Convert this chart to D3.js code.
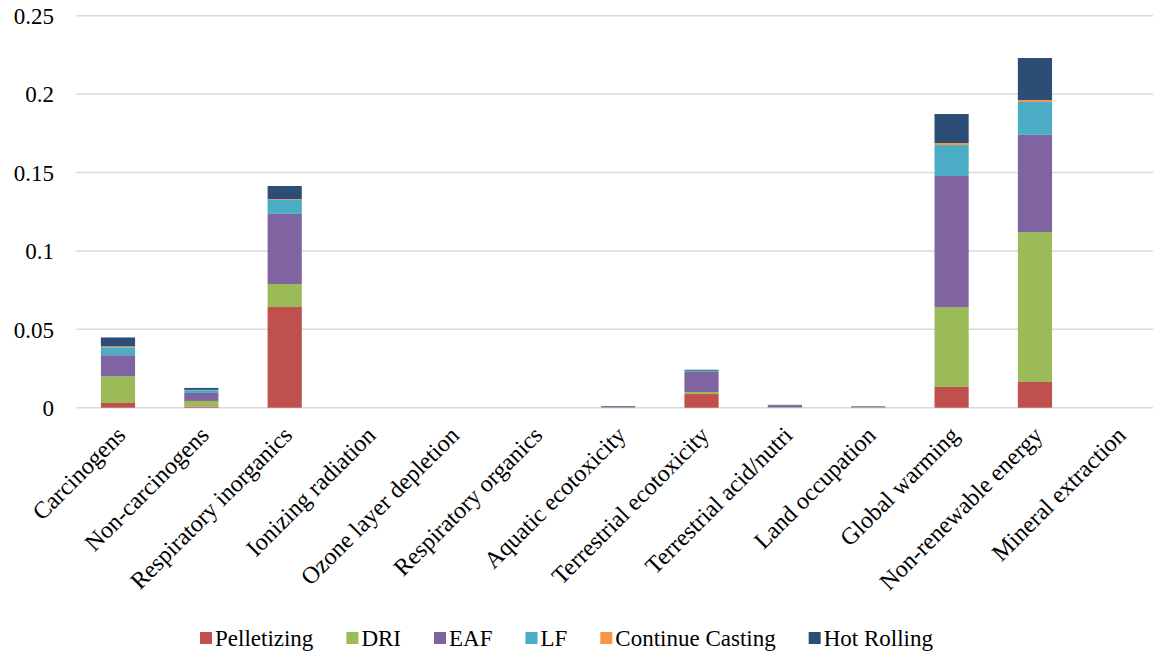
<!DOCTYPE html>
<html>
<head>
<meta charset="utf-8">
<script src="https://cdn.jsdelivr.net/npm/d3@7"></script>
<style>
  html, body { margin: 0; padding: 0; background: #fff; }
  svg { display: block; }
</style>
</head>
<body>
<svg id="chart" width="1153" height="652"></svg>
<script>
// Impact categories along the x axis
const categories = [
  "Carcinogens", "Non-carcinogens", "Respiratory inorganics", "Ionizing radiation",
  "Ozone layer depletion", "Respiratory organics", "Aquatic ecotoxicity",
  "Terrestrial ecotoxicity", "Terrestrial acid/nutri", "Land occupation",
  "Global warming", "Non-renewable energy", "Mineral extraction"
];

// Process stages (stack order, bottom to top)
const seriesNames = ["Pelletizing", "DRI", "EAF", "LF", "Continue Casting", "Hot Rolling"];

// Contribution of each stage per category
const pelletizing    = [0.0030, 0.0008, 0.0642, 0, 0, 0, 0.0001, 0.0087, 0.0002, 0.0001, 0.0132, 0.0164, 0];
const dri            = [0.0170, 0.0035, 0.0147, 0, 0, 0, 0.0001, 0.0013, 0.0002, 0.0001, 0.0510, 0.0956, 0];
const eaf            = [0.0135, 0.0051, 0.0447, 0, 0, 0, 0.0001, 0.0128, 0.0007, 0.0001, 0.0836, 0.0620, 0];
const lf             = [0.0050, 0.0018, 0.0089, 0, 0, 0, 0.0001, 0.0007, 0.0002, 0.0001, 0.0197, 0.0210, 0];
const continueCasting= [0.0006, 0.0002, 0.0005, 0, 0, 0, 0.0000, 0.0001, 0.0000, 0.0000, 0.0013, 0.0012, 0];
const hotRolling     = [0.0057, 0.0012, 0.0084, 0, 0, 0, 0.0005, 0.0006, 0.0005, 0.0004, 0.0185, 0.0268, 0];

const yTicks = [0, 0.05, 0.1, 0.15, 0.2, 0.25];
const yTickLabels = ["0", "0.05", "0.1", "0.15", "0.2", "0.25"];

const colors = ["#C0504D", "#9BBB59", "#8064A2", "#4BACC6", "#F79646", "#2C4D75"];

const FONT = "\"Liberation Serif\", \"Times New Roman\", serif";

const seriesValues = [pelletizing, dri, eaf, lf, continueCasting, hotRolling];
const table = categories.map((c, i) => {
  const row = { category: c };
  seriesNames.forEach((s, k) => { row[s] = seriesValues[k][i]; });
  return row;
});

const svg = d3.select("#chart");
const plotLeft = 76.3, plotRight = 1160, plotTop = 15.7, plotBottom = 407.7;

const x = d3.scaleBand()
  .domain(categories)
  .range([plotLeft, plotRight])
  .paddingInner(0.59)
  .paddingOuter(0.295);

const y = d3.scaleLinear()
  .domain([0, 0.25])
  .range([plotBottom, plotTop]);

function serif(size) {
  return sel => sel.style("font-family", FONT)
    .style("font-size", size + "px")
    .style("fill", "#000");
}

// Horizontal gridlines
svg.append("g")
  .selectAll("line")
  .data(yTicks)
  .join("line")
  .attr("x1", plotLeft)
  .attr("x2", 1153)
  .attr("y1", d => y(d))
  .attr("y2", d => y(d))
  .attr("stroke", "#d9d9d9")
  .attr("stroke-width", 1.5);

// Y axis labels
const yAxis = d3.axisLeft(y)
  .tickValues(yTicks)
  .tickFormat((d, i) => yTickLabels[i])
  .tickSize(0)
  .tickPadding(0);

const yg = svg.append("g")
  .attr("transform", `translate(54,0)`)
  .call(yAxis);
yg.select(".domain").remove();
yg.selectAll("text")
  .attr("dy", "0.34em")
  .call(serif(23));

// Stacked bars
const stack = d3.stack().keys(seriesNames);
const stacked = stack(table);

svg.append("g")
  .selectAll("g")
  .data(stacked)
  .join("g")
  .attr("fill", (d, i) => colors[i])
  .selectAll("rect")
  .data(d => d)
  .join("rect")
  .attr("x", d => x(d.data.category))
  .attr("width", x.bandwidth())
  .attr("y", d => y(d[1]))
  .attr("height", d => Math.max(0, y(d[0]) - y(d[1])));

// Rotated category labels
const xAxis = d3.axisBottom(x).tickSize(0).tickPadding(0);
const xg = svg.append("g")
  .attr("transform", `translate(0,${plotBottom})`)
  .call(xAxis);
xg.select(".domain").remove();
xg.selectAll(".tick text")
  .attr("text-anchor", "end")
  .attr("dy", null)
  .attr("y", 0)
  .attr("transform", "translate(9,29) rotate(-45)")
  .call(serif(24));

// Legend
const legend = svg.append("g");
const items = legend.selectAll("g")
  .data(seriesNames)
  .join("g");
items.append("rect")
  .attr("width", 12)
  .attr("height", 12)
  .attr("y", -6)
  .attr("fill", (d, i) => colors[i]);
items.append("text")
  .attr("x", 15)
  .attr("dy", "0.34em")
  .text(d => d)
  .call(serif(23));

let cursor = 0;
items.each(function () {
  const g = d3.select(this);
  g.attr("transform", `translate(${cursor},0)`);
  const w = 15 + g.select("text").node().getComputedTextLength();
  cursor += w + 33;
});
legend.attr("transform", `translate(200,638)`);
</script>
</body>
</html>
